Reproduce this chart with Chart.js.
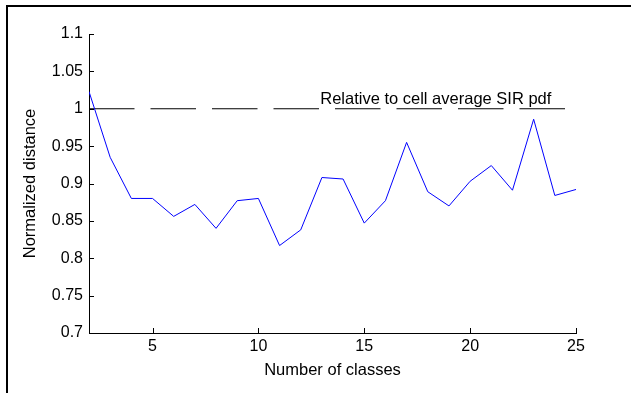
<!DOCTYPE html>
<html>
<head>
<meta charset="utf-8">
<script src="https://cdn.jsdelivr.net/npm/chart.js@4/dist/chart.umd.min.js"></script>
<style>
  html, body { margin: 0; padding: 0; background: #ffffff; }
  #wrap { position: relative; width: 631px; height: 393px; overflow: hidden; }
  #frame { position: absolute; left: 6px; top: 5px; right: -10px; bottom: -10px;
           border-left: 2px solid #000; border-top: 2px solid #000; pointer-events: none; }
  canvas { position: absolute; left: 0; top: 0; }
</style>
</head>
<body>
<div id="wrap">
  <canvas id="c" width="631" height="393"></canvas>
  <div id="frame"></div>
</div>
<script>
// ---- data ----
const classes = [2,3,4,5,6,7,8,9,10,11,12,13,14,15,16,17,18,19,20,21,22,23,24,25];
const normalizedDistance = [1.023, 0.935, 0.880, 0.880, 0.856, 0.872, 0.840, 0.877, 0.880, 0.817, 0.838, 0.908,
                            0.906, 0.847, 0.877, 0.955, 0.889, 0.870, 0.903, 0.924, 0.891, 0.986, 0.884, 0.892];
const referenceX = [2, 25];
const referenceY = [1, 1];
const xTickValues = [5, 10, 15, 20, 25];
const xTickLabels = ['5', '10', '15', '20', '25'];
const yTickValues = [0.7, 0.75, 0.8, 0.85, 0.9, 0.95, 1, 1.05, 1.1];
const yTickLabels = ['0.7', '0.75', '0.8', '0.85', '0.9', '0.95', '1', '1.05', '1.1'];
const annotationText = 'Relative to cell average SIR pdf';
const annotationAt = { x: 12.92, y: 1.006 };

const FONT = 'Liberation Sans, Arial, Helvetica, sans-serif';

const inwardTicks = {
  id: 'inwardTicks',
  afterDatasetsDraw(chart) {
    const ctx = chart.ctx;
    const xs = chart.scales.x, ys = chart.scales.y;
    const a = chart.chartArea;
    ctx.save();
    ctx.strokeStyle = '#000';
    ctx.lineWidth = 1;
    ctx.beginPath();
    xTickValues.forEach(v => {
      const px = Math.round(xs.getPixelForValue(v)) + 0.5;
      ctx.moveTo(px, a.bottom);
      ctx.lineTo(px, a.bottom - 5);
    });
    yTickValues.forEach(v => {
      const py = Math.round(ys.getPixelForValue(v)) + 0.5;
      ctx.moveTo(a.left, py);
      ctx.lineTo(a.left + 5, py);
    });
    ctx.stroke();
    // text annotation
    ctx.fillStyle = '#000';
    ctx.font = '16.5px ' + FONT;
    ctx.textAlign = 'left';
    ctx.textBaseline = 'alphabetic';
    ctx.fillText(annotationText, xs.getPixelForValue(annotationAt.x), ys.getPixelForValue(annotationAt.y));
    ctx.restore();
  }
};

new Chart(document.getElementById('c'), {
  type: 'line',
  data: {
    datasets: [
      {
        data: classes.map((x, i) => ({ x: x, y: normalizedDistance[i] })),
        borderColor: '#0000ff',
        borderWidth: 1,
        pointRadius: 0,
        tension: 0,
        fill: false
      },
      {
        data: referenceX.map((x, i) => ({ x: x, y: referenceY[i] })),
        borderColor: '#000000',
        borderWidth: 1,
        borderDash: [45.5, 16],
        pointRadius: 0,
        tension: 0,
        fill: false
      }
    ]
  },
  options: {
    responsive: false,
    devicePixelRatio: 1,
    animation: false,
    layout: { padding: { top: 34, right: 55, left: 0, bottom: 0 } },
    plugins: { legend: { display: false }, tooltip: { enabled: false } },
    scales: {
      x: {
        type: 'linear',
        min: 2, max: 25,
        grid: { display: false, drawTicks: false },
        border: { display: true, color: '#000', width: 1 },
        afterBuildTicks: s => { s.ticks = xTickValues.map(v => ({ value: v })); },
        afterFit: s => { s.height = 60; },
        ticks: {
          color: '#000', padding: 4, maxRotation: 0, autoSkip: false,
          font: { family: FONT, size: 16 },
          callback: (v) => xTickLabels[xTickValues.indexOf(v)]
        },
        title: {
          display: true, text: 'Number of classes', color: '#000',
          font: { family: FONT, size: 16.5 },
          padding: { top: 0, bottom: 13 }
        }
      },
      y: {
        type: 'linear',
        min: 0.7, max: 1.1,
        grid: { display: false, drawTicks: false },
        border: { display: true, color: '#000', width: 1 },
        afterBuildTicks: s => { s.ticks = yTickValues.map(v => ({ value: v })); },
        afterFit: s => { s.width = 89; },
        ticks: {
          color: '#000', padding: 6, autoSkip: false,
          font: { family: FONT, size: 16 },
          callback: (v, i) => yTickLabels[i]
        },
        title: {
          display: true, text: 'Normalized distance', color: '#000',
          font: { family: FONT, size: 16.5 },
          padding: { top: 21, bottom: 0 }
        }
      }
    }
  },
  plugins: [inwardTicks]
});
</script>
</body>
</html>
